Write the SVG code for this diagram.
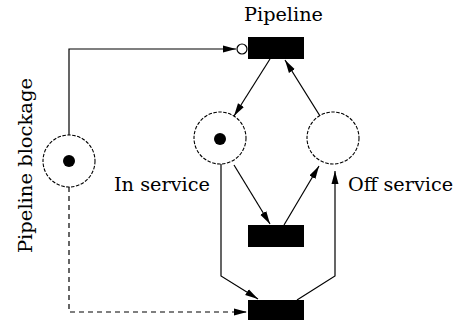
<svg xmlns="http://www.w3.org/2000/svg" width="461" height="320" viewBox="0 0 461 320">
<style>
.place{fill:#fff;stroke:#000;stroke-width:1.1;stroke-dasharray:3.5 1.5}
.tr{fill:#000}
.arc{fill:none;stroke:#000;stroke-width:1.2}
.dash{stroke-dasharray:5 4}
text{font-family:'DejaVu Serif','Liberation Serif',serif;font-size:19px;fill:#000}
</style>
<defs>
<marker id="ah" markerUnits="userSpaceOnUse" markerWidth="14" markerHeight="10" viewBox="0 0 14 10" refX="13" refY="5" orient="auto">
<path d="M0,1.5 L13,5 L0,8.5 Z" fill="#000"/>
</marker>
</defs>
<rect width="461" height="320" fill="#fff"/>
<g id="connectors">
<path class="arc" d="M69,135 V49 H236" marker-end="url(#ah)"/>
<circle cx="242" cy="49" r="5" fill="#fff" stroke="#000" stroke-width="1.2"/>
<path class="arc" d="M270,59 L234,116" marker-end="url(#ah)"/>
<path class="arc" d="M320,116 L285,60" marker-end="url(#ah)"/>
<path class="arc" d="M234,165 L270,224" marker-end="url(#ah)"/>
<path class="arc" d="M284,225 L319,166" marker-end="url(#ah)"/>
<path class="arc" d="M221,164 V276 L258,299" marker-end="url(#ah)"/>
<path class="arc" d="M297,300 L335,276 V171" marker-end="url(#ah)"/>
<path class="arc dash" d="M69,187 V312 H247" marker-end="url(#ah)"/>
</g>
<g id="pipeline-blockage">
<circle class="place" cx="69" cy="161" r="26"/>
<circle cx="69" cy="161" r="6" fill="#000"/>
<text transform="translate(32,253) rotate(-90)" textLength="175" lengthAdjust="spacingAndGlyphs">Pipeline blockage</text>
</g>
<g id="pipeline">
<rect class="tr" x="248" y="37" width="56" height="22"/>
<text x="244" y="21" textLength="79" lengthAdjust="spacingAndGlyphs">Pipeline</text>
</g>
<g id="in-service">
<circle class="place" cx="220" cy="138" r="26"/>
<circle cx="220" cy="139" r="6" fill="#000"/>
<text x="114" y="191" textLength="96" lengthAdjust="spacingAndGlyphs">In service</text>
</g>
<g id="off-service">
<circle class="place" cx="333" cy="138" r="26"/>
<text style="font-size:18px" x="348" y="191" textLength="105" lengthAdjust="spacingAndGlyphs">Off service</text>
</g>
<g id="repair">
<rect class="tr" x="248" y="225" width="56" height="22"/>
</g>
<g id="blocked">
<rect class="tr" x="248" y="300" width="56" height="22"/>
</g>
</svg>
